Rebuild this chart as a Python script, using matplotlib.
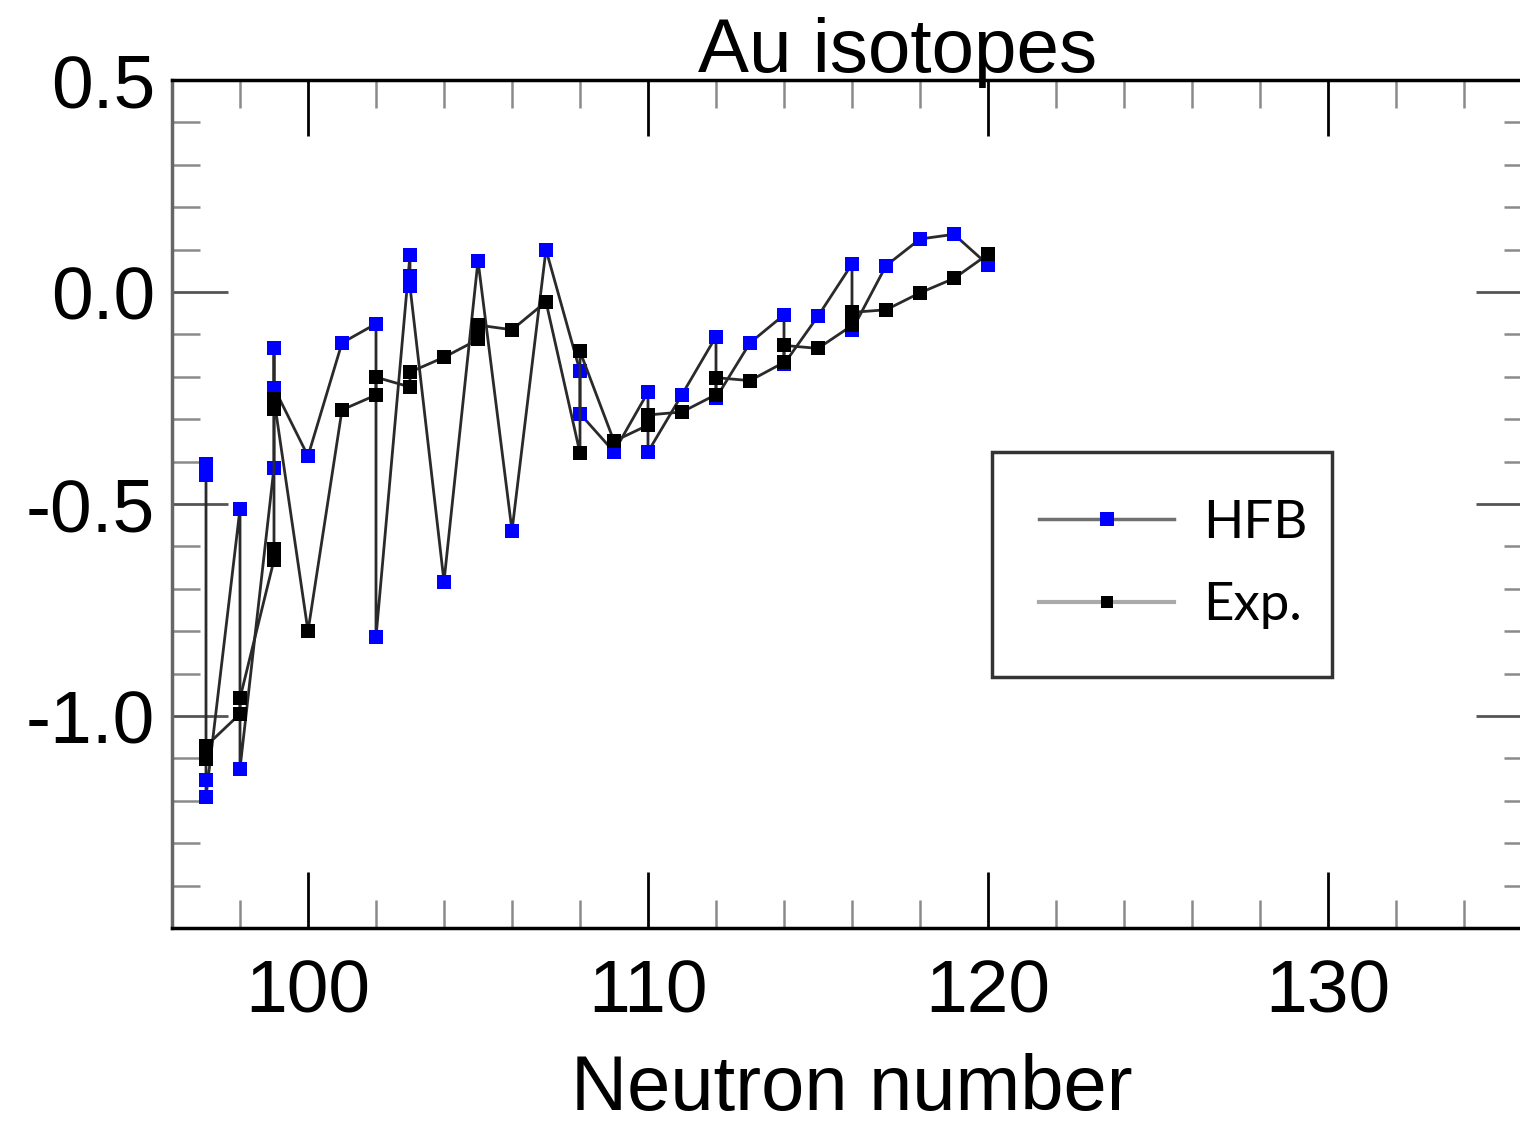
import matplotlib
matplotlib.use("Agg")
import matplotlib.pyplot as plt
from matplotlib.lines import Line2D
from matplotlib.ticker import MultipleLocator, FixedLocator

# ---- data ----
hfb_n = [97, 97, 97, 97, 98, 98, 99, 99, 99, 100, 101, 102, 102, 103, 103, 103,
         104, 105, 106, 107, 108, 108, 109, 110, 110, 111, 112, 112, 113, 114, 114,
         115, 116, 116, 117, 118, 119, 120]
hfb_v = [-0.405, -0.432, -1.15, -1.19, -0.511, -1.124, -0.414, -0.132, -0.226, -0.387,
         -0.12, -0.075, -0.814, 0.088, 0.037, 0.013, -0.683, 0.074, -0.563, 0.10,
         -0.187, -0.287, -0.377, -0.236, -0.377, -0.242, -0.105, -0.25, -0.12, -0.054,
         -0.17, -0.057, 0.066, -0.09, 0.062, 0.125, 0.136, 0.064]

exp_n = [97, 97, 98, 98, 99, 99, 99, 99, 100, 101, 102, 102, 103, 103, 104, 105, 105,
         106, 107, 108, 108, 109, 110, 110, 111, 112, 112, 113, 114, 114, 115, 116, 116,
         117, 118, 119, 120]
exp_v = [-1.101, -1.071, -0.995, -0.958, -0.632, -0.605, -0.275, -0.252, -0.80, -0.278,
         -0.243, -0.201, -0.224, -0.189, -0.154, -0.112, -0.078, -0.089, -0.023, -0.38,
         -0.14, -0.352, -0.314, -0.29, -0.283, -0.242, -0.202, -0.209, -0.166, -0.126,
         -0.133, -0.079, -0.048, -0.042, -0.002, 0.032, 0.089]

x_major = [100, 110, 120, 130]
y_major = [0.5, 0.0, -0.5, -1.0]
y_labels = ["0.5", "0.0", "-0.5", "-1.0"]

W, H = 1520, 1123
fig = plt.figure(figsize=(W / 100, H / 100), dpi=100)
ax = fig.add_axes([172 / W, 1 - 928 / H, 1360 / W, 848 / H])

ax.plot(hfb_n, hfb_v, color="#2a2a2a", lw=2.0, marker="s", ms=10, mfc="#0000ff",
        mec="#0000ff", mew=0, zorder=3)
ax.plot(exp_n, exp_v, color="#2a2a2a", lw=2.0, marker="s", ms=10.5, mfc="black",
        mec="black", mew=0, zorder=4)

ax.set_xlim(96, 136)
ax.set_ylim(-1.5, 0.5)

ax.xaxis.set_major_locator(FixedLocator(x_major))
ax.xaxis.set_minor_locator(MultipleLocator(2))
ax.yaxis.set_major_locator(FixedLocator(y_major))
ax.yaxis.set_minor_locator(MultipleLocator(0.1))
ax.set_yticklabels(y_labels)

for lab in ax.get_xticklabels() + ax.get_yticklabels():
    lab.set_fontfamily("Liberation Sans")
    lab.set_fontsize(54)

ax.tick_params(which="major", direction="in", length=40, width=2, color="black",
               top=True, right=True, labelsize=54)
ax.tick_params(axis="x", which="major", pad=22)
ax.tick_params(axis="y", which="major", pad=12, color="#555555")
ax.tick_params(which="minor", direction="in", length=20, width=1.8, color="#8a8a8a",
               top=True, right=True)

for side in ["top", "bottom"]:
    ax.spines[side].set_linewidth(2.5)
    ax.spines[side].set_color("black")
ax.spines["left"].set_linewidth(2.5)
ax.spines["left"].set_color("#666666")
ax.spines["right"].set_visible(False)

ax.set_xlabel("Neutron number", fontfamily="Liberation Sans", fontsize=56, labelpad=18)
fig.text(898 / W, 1 - 72 / H, "Au isotopes", ha="center", va="baseline",
         fontfamily="Liberation Sans", fontsize=55)

handles = [
    Line2D([], [], color="#707070", lw=2.5, marker="s", ms=10.5, mfc="#0000ff", mec="#0000ff", mew=0),
    Line2D([], [], color="#aaaaaa", lw=3, marker="s", ms=8.5, mfc="black", mec="black", mew=0),
]
lx0 = (992 - 172) / 1360
lw_ = (1332 - 992) / 1360
ly0 = (928 - 676) / 848
lh = (676 - 452) / 848
leg = ax.legend(handles, ["HFB", "Exp."], loc="upper left",
                bbox_to_anchor=(lx0, ly0, lw_, lh), mode="expand",
                borderaxespad=0, frameon=True, fancybox=False, edgecolor="black",
                prop=dict(family="Lato", size=38), handlelength=2.55, handletextpad=0.55,
                labelspacing=0.68, borderpad=0.9)
leg.get_frame().set_linewidth(2.5)

fig.savefig("out.png", dpi=100, facecolor="white")
